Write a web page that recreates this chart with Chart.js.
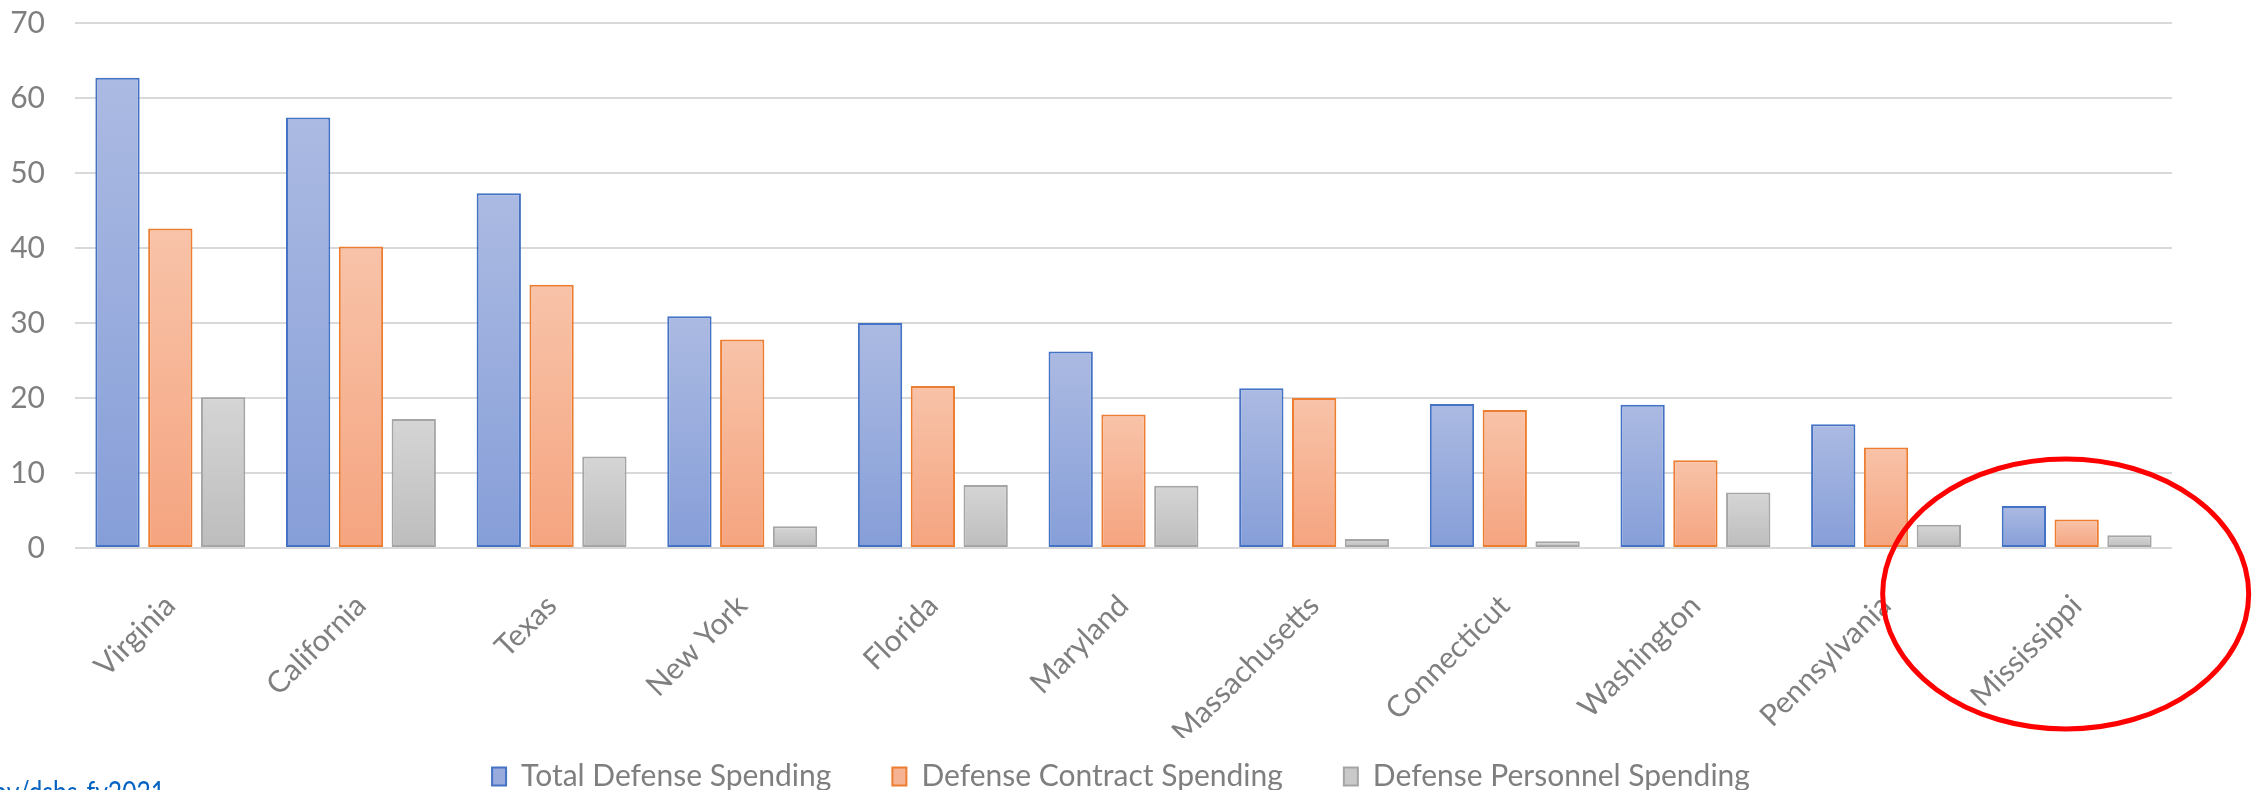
<!DOCTYPE html>
<html>
<head>
<meta charset="utf-8">
<script src="https://cdn.jsdelivr.net/npm/chart.js@4.4.1/dist/chart.umd.min.js"></script>
<style>
  html, body { margin: 0; padding: 0; background: #ffffff; }
  canvas { display: block; }
</style>
</head>
<body>
<canvas id="c" width="2262" height="790"></canvas>
<script>
const states = ['Virginia', 'California', 'Texas', 'New York', 'Florida', 'Maryland',
  'Massachusetts', 'Connecticut', 'Washington', 'Pennsylvania', 'Mississippi'];
const totalSpending = [62.7, 57.4, 47.3, 30.9, 30.0, 26.2, 21.3, 19.2, 19.1, 16.5, 5.6];
const contractSpending = [42.6, 40.2, 35.1, 27.8, 21.6, 17.8, 20.0, 18.4, 11.7, 13.4, 3.8];
const personnelSpending = [20.1, 17.2, 12.2, 2.9, 8.4, 8.3, 1.2, 0.9, 7.4, 3.1, 1.7];
const seriesNames = ['Total Defense Spending', 'Defense Contract Spending', 'Defense Personnel Spending'];
const yTicks = [0, 10, 20, 30, 40, 50, 60, 70];
const sourceText = 'ov/dsbs-fy2021';
const highlightState = 'Mississippi';

const FONT = 'Lato';
const FS = 30;
const TEXT = '#7f7f7f';
const GRID = '#d9d9d9';

const palette = [
  { top: '#abbae2', bottom: '#869ed8', mid: '#98abdc', border: '#4472c4' },
  { top: '#f8c3a9', bottom: '#f5a47f', mid: '#f6b393', border: '#ed7d31' },
  { top: '#d5d5d5', bottom: '#bdbdbd', mid: '#c9c9c9', border: '#a5a5a5' }
];

function gradFill(p) {
  return (ctx) => {
    const chart = ctx.chart;
    if (!chart.chartArea || ctx.type !== 'data' || !chart.scales.y) return p.mid;
    const ys = chart.scales.y;
    const y0 = ys.getPixelForValue(ctx.raw);
    const y1 = ys.getPixelForValue(0);
    if (!isFinite(y0) || !isFinite(y1) || y0 === y1) return p.mid;
    const g = chart.ctx.createLinearGradient(0, y0, 0, y1);
    g.addColorStop(0, p.top);
    g.addColorStop(1, p.bottom);
    return g;
  };
}

const seriesData = [totalSpending, contractSpending, personnelSpending];
const datasets = seriesData.map((d, i) => ({
  label: seriesNames[i],
  data: d,
  backgroundColor: gradFill(palette[i]),
  borderColor: palette[i].border,
  borderWidth: 2,
  borderSkipped: false,
  categoryPercentage: 0.831,
  barPercentage: 0.839
}));

const LEGEND_H = 52;
const LEGEND_PAD = 61;
const LEGEND_TEXT_Y = 776.5;
const LEGEND_SHIFT_X = 35;

const extras = {
  id: 'extras',
  beforeUpdate(chart) {
    const lg = chart.legend;
    if (lg && !lg._patched) {
      const f = lg.fit;
      lg.fit = function () { f.call(this); this.height = LEGEND_H; };
      const d = lg.draw;
      lg.draw = function () {
        const t = this.top, l = this.left, r = this.right;
        this.top = LEGEND_TEXT_Y - LEGEND_PAD - FS / 2;
        this.left = l + LEGEND_SHIFT_X;
        this.right = r + LEGEND_SHIFT_X;
        d.call(this);
        this.top = t; this.left = l; this.right = r;
      };
      lg._patched = true;
    }
  },
  afterDraw(chart) {
    const c = chart.ctx;
    const xs = chart.scales.x, ys = chart.scales.y;
    // red highlight ellipse
    const cx = xs.getPixelForValue(states.indexOf(highlightState)) - 11;
    const cy = ys.getPixelForValue(0) + 46;
    c.save();
    c.beginPath();
    c.ellipse(cx, cy, 183, 135, 0, 0, Math.PI * 2);
    c.strokeStyle = '#ff0000';
    c.lineWidth = 5;
    c.stroke();
    c.restore();
    // clipped source text (condensed to match the narrow original face)
    c.save();
    c.font = FS + 'px ' + FONT;
    c.fillStyle = '#0563c1';
    c.textAlign = 'right';
    c.textBaseline = 'alphabetic';
    const w = c.measureText(sourceText).width;
    c.translate(165, 803);
    c.scale(172 / w, 1);
    c.fillText(sourceText, 0, 0);
    c.restore();
  }
};

new Chart(document.getElementById('c'), {
  type: 'bar',
  data: { labels: states, datasets },
  plugins: [extras],
  options: {
    responsive: false,
    animation: false,
    devicePixelRatio: 1,
    layout: { padding: { left: 0, right: 90, top: 23, bottom: 0 } },
    scales: {
      x: {
        grid: { display: false, drawTicks: false },
        border: { display: false },
        ticks: {
          minRotation: 45, maxRotation: 45,
          autoSkip: false,
          padding: 40,
          color: TEXT,
          font: { family: FONT, size: FS }
        },
        afterFit(scale) {
          scale.height = 190;
          scale.paddingLeft = 0; scale.paddingRight = 0;
          scale.paddingTop = 0; scale.paddingBottom = 0;
        }
      },
      y: {
        min: 0, max: 70,
        afterBuildTicks(scale) { scale.ticks = yTicks.map(v => ({ value: v })); },
        grid: { color: GRID, lineWidth: 2, drawTicks: false },
        border: { display: false },
        ticks: {
          padding: 30,
          color: TEXT,
          font: { family: FONT, size: FS }
        },
        afterFit(scale) {
          scale.width = 75;
          scale.paddingTop = 0; scale.paddingBottom = 0;
          scale.paddingLeft = 0; scale.paddingRight = 0;
        }
      }
    },
    plugins: {
      tooltip: { enabled: false },
      legend: {
        position: 'bottom',
        labels: {
          color: TEXT,
          font: { family: FONT, size: FS },
          boxWidth: 14,
          boxHeight: 18,
          padding: LEGEND_PAD,
          generateLabels(chart) {
            const items = Chart.defaults.plugins.legend.labels.generateLabels(chart);
            items.forEach((it, i) => {
              it.fillStyle = palette[i].mid;
              it.strokeStyle = palette[i].border;
              it.lineWidth = 2;
            });
            return items;
          }
        }
      }
    }
  }
});
</script>
</body>
</html>
